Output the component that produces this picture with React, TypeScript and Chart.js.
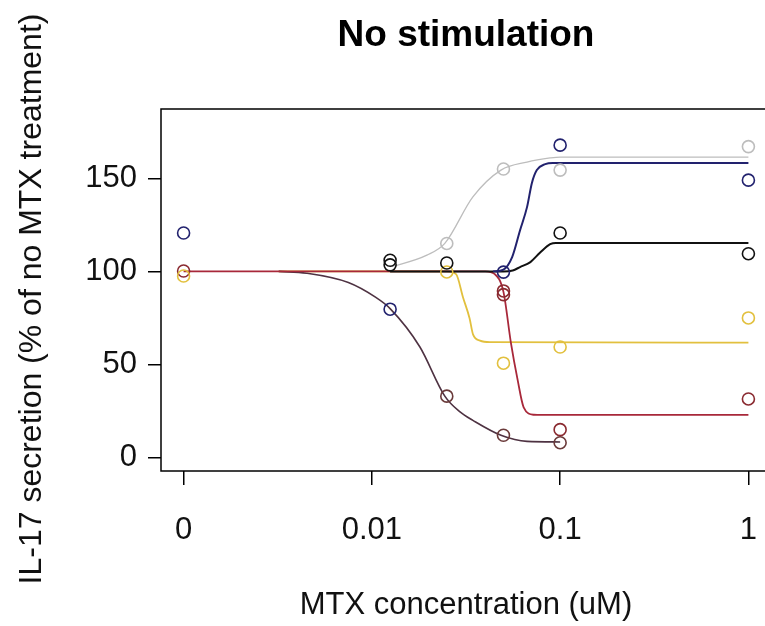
import React, { useEffect, useRef } from 'react';
import { Chart, registerables } from 'chart.js';

Chart.register(...registerables);

// "0" concentration is shown on the log axis one decade below 0.01
const ZERO_POSITION = 0.001;
const xTickValues = [0.001, 0.01, 0.1, 1];
const xTickLabels = ['0', '0.01', '0.1', '1'];
const yTickValues = [0, 50, 100, 150];

const TITLE = 'No stimulation';
const X_TITLE = 'MTX concentration (uM)';
const Y_TITLE = 'IL-17 secretion (% of no MTX treatment)';

// observed values (concentration in uM, % of no MTX treatment)
const navyX = [0, 0.0125, 0.05, 0.1, 1];
const navyY = [120.6, 79.7, 99.6, 167.8, 149];
const grayX = [0.025, 0.05, 0.1, 1];
const grayY = [115, 155, 154.4, 167];
const blackX = [0.0125, 0.0125, 0.025, 0.1, 1];
const blackY = [106, 103.5, 104.5, 120.6, 109.5];
const goldX = [0, 0.025, 0.05, 0.1, 1];
const goldY = [97.5, 99.7, 50.7, 59.4, 75];
const redX = [0, 0.05, 0.05, 0.1, 1];
const redY = [100.2, 89.5, 87.5, 15, 31.5];
const plumX = [0.025, 0.05, 0.1];
const plumY = [33, 12, 8];

// fitted dose-response curves
const grayCurveX = [0.0125, 0.0137, 0.0196, 0.0244, 0.0344, 0.0485, 0.0667, 0.0885, 0.1, 1];
const grayCurveY = [102.5, 103.4, 108.7, 115, 140, 154.4, 158.7, 160.9, 161.4, 161.4];
const navyCurveX = [0.044, 0.05, 0.0556, 0.0612, 0.0667, 0.0708, 0.0752, 0.0834, 0.0913, 1];
const navyCurveY = [100, 101, 107.7, 122, 134.5, 147.5, 154.4, 157.6, 158.2, 158.2];
const blackCurveX = [0.0125, 0.05, 0.056, 0.0612, 0.0695, 0.0781, 0.0885, 0.095, 1];
const blackCurveY = [100, 100, 100.5, 102.3, 105, 110, 114.6, 115.3, 115.3];
const goldCurveX = [0.0032, 0.025, 0.028, 0.0305, 0.033, 0.0345, 0.0375, 0.0425, 1];
const goldCurveY = [100, 100, 98.5, 86, 75, 66, 62.8, 62, 61.7];
const redCurveX = [0, 0.04, 0.045, 0.05, 0.0548, 0.0595, 0.064, 0.0725, 0.08, 1];
const redCurveY = [100, 100, 98.5, 89, 61.5, 41.6, 27, 23, 22.9, 22.9];
const plumCurveX = [0.0032, 0.0045, 0.0075, 0.0105, 0.0125, 0.018, 0.0244, 0.0294, 0.0344, 0.0485, 0.0667, 0.1];
const plumCurveY = [100, 99, 94, 86, 80, 59.4, 33, 24.5, 20, 12, 8.7, 8.4];

const NAVY = '#22226e';
const GRAY = '#bdbdbd';
const BLACK = '#111111';
const GOLD = '#e2c03e';
const RED = '#a8283a';
const PLUM = '#4e3242';

const FONT = 'Liberation Sans, Arial, sans-serif';

const boxPlugin = {
  id: 'plotBox',
  beforeDatasetsDraw(chart: any) {
    const { ctx, chartArea } = chart;
    ctx.save();
    ctx.strokeStyle = '#000';
    ctx.lineWidth = 1.5;
    ctx.strokeRect(chartArea.left, chartArea.top, chartArea.right - chartArea.left, chartArea.bottom - chartArea.top);
    ctx.restore();
  },
};

// y-axis title, placed as in the reference (slightly below the plot-box centre)
const yTitlePlugin = {
  id: 'yTitle',
  afterDraw(chart: any) {
    const { ctx } = chart;
    ctx.save();
    ctx.translate(32, 299);
    ctx.rotate(-Math.PI / 2);
    ctx.font = `32px ${FONT}`;
    ctx.fillStyle = '#111';
    ctx.textAlign = 'center';
    ctx.textBaseline = 'middle';
    ctx.fillText(Y_TITLE, 0, 0);
    ctx.restore();
  },
};

export default function App() {
  const ref = useRef<HTMLCanvasElement>(null);

  useEffect(() => {
    if (!ref.current) return;
    const pos = (c: number) => (c === 0 ? ZERO_POSITION : c);
    const pts = (xs: number[], ys: number[]) => xs.map((x, i) => ({ x: pos(x), y: ys[i] }));
    const points = (xs: number[], ys: number[], color: string) => ({
      data: pts(xs, ys),
      borderColor: color,
      backgroundColor: 'rgba(0,0,0,0)',
      pointRadius: 6,
      pointBorderWidth: 1.6,
      showLine: false,
    });
    const curve = (xs: number[], ys: number[], color: string, width: number) => ({
      data: pts(xs, ys),
      borderColor: color,
      backgroundColor: color,
      borderWidth: width,
      pointRadius: 0,
      showLine: true,
      fill: false,
      cubicInterpolationMode: 'monotone',
    });

    const chart = new Chart(ref.current, {
      type: 'scatter',
      data: {
        datasets: [
          points(navyX, navyY, NAVY),
          points(blackX, blackY, BLACK),
          points(grayX, grayY, GRAY),
          points(goldX, goldY, GOLD),
          points(redX, redY, '#8a2a30'),
          points(plumX, plumY, '#6a3a3a'),
          curve(navyCurveX, navyCurveY, NAVY, 2),
          curve(blackCurveX, blackCurveY, BLACK, 2),
          curve(redCurveX, redCurveY, RED, 1.8),
          curve(plumCurveX, plumCurveY, PLUM, 1.6),
          curve(goldCurveX, goldCurveY, GOLD, 1.8),
          curve(grayCurveX, grayCurveY, GRAY, 1.3),
        ] as any,
      },
      options: {
        animation: false,
        responsive: false,
        devicePixelRatio: 1,
        layout: { padding: { left: 0, top: 0, right: 19, bottom: 0 } },
        plugins: {
          legend: { display: false },
          tooltip: { enabled: false },
          title: {
            display: true,
            fullSize: false,
            text: TITLE,
            color: '#000',
            font: { family: FONT, size: 37, weight: 'bold', lineHeight: 1.2 },
            padding: { top: 14, bottom: 50.6 },
          },
        },
        scales: {
          x: {
            type: 'logarithmic',
            min: Math.pow(10, -3.12),
            max: Math.pow(10, 0.12),
            afterBuildTicks: (s: any) => {
              s.ticks = xTickValues.map((v) => ({ value: v }));
            },
            afterFit: (s: any) => {
              s.height = 155;
            },
            ticks: {
              autoSkip: false,
              maxRotation: 0,
              color: '#111',
              padding: 27,
              font: { family: FONT, size: 31 },
              callback: (v: any) => {
                const i = xTickValues.indexOf(Number(v));
                return i >= 0 ? xTickLabels[i] : '';
              },
            },
            grid: { drawOnChartArea: false, drawTicks: true, tickLength: 14, color: '#000', lineWidth: 1.5 },
            border: { display: false },
            title: {
              display: true,
              text: X_TITLE,
              color: '#111',
              font: { family: FONT, size: 31, lineHeight: 1.2 },
              padding: { top: 0, bottom: 2 },
            },
          },
          y: {
            type: 'linear',
            min: -7.2,
            max: 187.2,
            afterBuildTicks: (s: any) => {
              s.ticks = yTickValues.map((v) => ({ value: v }));
            },
            afterFit: (s: any) => {
              s.width = 161;
            },
            ticks: {
              color: '#111',
              padding: 11,
              font: { family: FONT, size: 31 },
            },
            grid: { drawOnChartArea: false, drawTicks: true, tickLength: 13, color: '#000', lineWidth: 1.5 },
            border: { display: false },
            title: { display: false },
          },
        },
      } as any,
      plugins: [boxPlugin, yTitlePlugin],
    });
    return () => chart.destroy();
  }, []);

  return (
    <div style={{ position: 'fixed', left: 0, top: 0, width: 765, height: 626, overflow: 'hidden', background: '#fff' }}>
      <canvas ref={ref} width={790} height={626} style={{ display: 'block' }} />
    </div>
  );
}
